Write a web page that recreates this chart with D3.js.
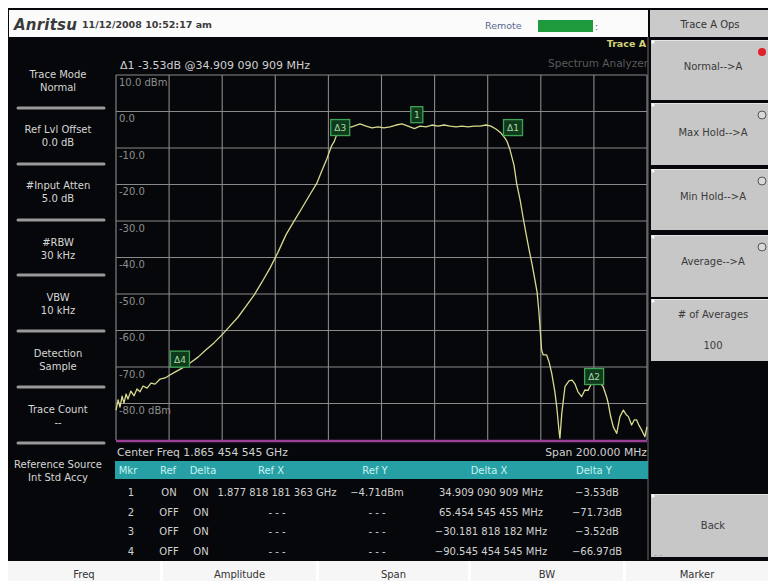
<!DOCTYPE html>
<html><head><meta charset="utf-8">
<script src="https://cdn.jsdelivr.net/npm/d3@7"></script>
<style>
body{margin:0;background:#fff}
svg{display:block}
text{font-family:"DejaVu Sans",sans-serif}
</style></head>
<body><svg id="c" width="768" height="581"></svg>
<script>
// ---------- DATA ----------
const centerFreqText = "Center Freq 1.865 454 545 GHz";
const spanText = "Span 200.000 MHz";
// trace: frequency offset from center (MHz) and level (dBm)
const traceFreq = [-100,-99.2,-98.5,-97.7,-97.0,-96.2,-95.5,-94.4,-93.2,-92.1,-91.0,-89.8,-88.3,-86.8,-85.3,-83.4,-81.5,-79.7,-77.8,-75.1,-72.1,-69.1,-66.1,-63.1,-60.1,-57.1,-54.0,-51.0,-48.0,-45.0,-42.0,-39.0,-36.0,-33.0,-30.0,-27.0,-24.4,-22.5,-20.6,-18.8,-17.8,-16.9,-15.5,-12.6,-10.4,-8.1,-5.8,-3.6,-1.3,0.9,3.2,5.5,7.7,10.0,12.4,14.5,16.8,19.0,21.3,23.6,25.8,28.1,30.3,32.6,34.8,37.1,39.4,41.2,43.1,45.0,46.5,47.3,48.4,49.9,50.9,52.2,53.3,54.4,55.6,56.7,57.8,58.6,59.3,59.7,60.3,60.9,62.2,63.1,64.1,65.3,66.0,66.9,67.2,67.9,69.1,70.6,71.8,72.9,74.0,75.4,76.6,77.8,79.2,80.5,81.7,82.7,83.5,84.9,85.4,86.3,87.3,88.6,89.8,91.1,92.1,93.0,94.2,95.2,96.1,97.0,98.0,99.2,100];
const traceLevel = [-81.8,-79.0,-81.0,-78.0,-79.9,-77.4,-78.8,-76.6,-77.9,-76.0,-76.8,-75.2,-75.8,-74.4,-74.7,-73.3,-73.0,-72.2,-71.4,-70.3,-68.9,-67.3,-65.3,-63.4,-61.2,-58.8,-56.3,-53.3,-50.3,-46.7,-42.9,-38.6,-33.8,-30.1,-26.5,-22.8,-19.7,-16.3,-13.0,-9.4,-8.2,-6.4,-5.3,-4.5,-4.0,-3.4,-4.0,-4.5,-4.2,-4.5,-4.2,-3.7,-3.4,-4.0,-4.7,-4.0,-4.2,-3.7,-4.0,-3.7,-4.0,-4.2,-4.0,-4.2,-4.0,-4.0,-3.7,-4.0,-4.8,-5.9,-7.3,-8.2,-10.5,-14.7,-19.7,-24.2,-28.9,-33.3,-37.9,-41.8,-46.2,-49.5,-55.0,-59.0,-65.3,-66.7,-66.7,-68.6,-71.7,-76.8,-80.9,-87.8,-89.5,-82.7,-75.4,-73.8,-73.6,-74.7,-76.8,-78.1,-76.3,-76.4,-74.4,-73.8,-73.6,-74.7,-75.4,-78.5,-80.0,-83.5,-86.4,-88.2,-83.6,-81.8,-83.0,-83.6,-85.9,-84.5,-84.5,-86.0,-87.3,-89.1,-86.4];
const yTickValues = [10,0,-10,-20,-30,-40,-50,-60,-70,-80];
const yTickLabels = ["10.0 dBm","0.0","-10.0","-20.0","-30.0","-40.0","-50.0","-60.0","-70.0","-80.0 dBm"];
const markerNames = ["1","Δ1","Δ2","Δ3","Δ4"];
const markerFreq = [12.364,47.273,77.818,-17.818,-78.182];
const markerLevel = [-4.71,-8.24,-76.44,-8.23,-71.68];
const markerReadout = "Δ1  -3.53dB @34.909 090 909 MHz";
const tableHeaders = ["Mkr","Ref","Delta","Ref X","Ref Y","Delta X","Delta Y"];
const tableMkr = ["1","2","3","4"];
const tableRef = ["ON","OFF","OFF","OFF"];
const tableDelta = ["ON","ON","ON","ON"];
const tableRefX = ["1.877 818 181 363 GHz","- - -","- - -","- - -"];
const tableRefY = ["−4.71dBm","- - -","- - -","- - -"];
const tableDeltaX = ["34.909 090 909 MHz","65.454 545 455 MHz","−30.181 818 182 MHz","−90.545 454 545 MHz"];
const tableDeltaY = ["−3.53dB","−71.73dB","−3.52dB","−66.97dB"];
const leftTitles = ["Trace Mode","Ref Lvl Offset","#Input Atten","#RBW","VBW","Detection","Trace Count","Reference Source"];
const leftValues = ["Normal","0.0 dB","5.0 dB","30 kHz","10 kHz","Sample","--","Int Std Accy"];
const softkeys = ["Normal-->A","Max Hold-->A","Min Hold-->A","Average-->A"];
const bottomKeys = ["Freq","Amplitude","Span","BW","Marker"];

// ---------- LAYOUT ----------
const svg = d3.select("#c");
const G = {l:116, r:647, t:75, b:440};
const x = d3.scaleLinear().domain([-100,100]).range([G.l,G.r]);
const y = d3.scaleLinear().domain([-90,10]).range([G.b,G.t]);

svg.append("rect").attr("width",768).attr("height",581).attr("fill","#fff");
svg.append("rect").attr("x",8).attr("y",8).attr("width",760).attr("height",553).attr("fill","#06070a");

// top bar
svg.append("rect").attr("x",9).attr("y",10).attr("width",639).attr("height",27).attr("fill","#fbfbfb");
svg.append("text").attr("x",14).attr("y",30).attr("font-size",15).attr("font-weight",900)
  .attr("font-style","italic").attr("fill","#3a3a3a").attr("letter-spacing",0.2).text("Anritsu");
svg.append("text").attr("x",82).attr("y",28).attr("font-size",9.5).attr("font-weight","bold")
  .attr("fill","#3a3a3a").text("11/12/2008 10:52:17 am");
svg.append("text").attr("x",485).attr("y",29).attr("font-size",9.5).attr("fill","#5a6890").text("Remote");
svg.append("rect").attr("x",538).attr("y",20).attr("width",55).attr("height",12).attr("fill","#1f9a3c");
svg.append("text").attr("x",595).attr("y",30).attr("font-size",9).attr("fill","#555").text(":");

// right panel header
svg.append("rect").attr("x",650).attr("y",10).attr("width",118).attr("height",27).attr("fill","#cacaca");
svg.append("text").attr("x",710).attr("y",28).attr("text-anchor","middle").attr("font-size",10)
  .attr("fill","#333").text("Trace A Ops");

// right softkeys
const keyBoxes = [[40,100],[103,165],[169,230],[235,297],[299,361],[494,557]];
const keyTextY = [70,136,200,265];
keyBoxes.forEach((k,i)=>{
  svg.append("rect").attr("x",651).attr("y",k[0]).attr("width",117).attr("height",k[1]-k[0]).attr("fill","#c7c7c7");
  svg.append("line").attr("x1",651).attr("x2",768).attr("y1",k[0]+0.5).attr("y2",k[0]+0.5).attr("stroke","#e4e4e4");
  svg.append("circle").attr("cx",653).attr("cy",k[0]+2).attr("r",1.5).attr("fill","#fff");
});
softkeys.forEach((s,i)=>{
  const k = keyBoxes[i];
  svg.append("text").attr("x",713).attr("y",keyTextY[i]).attr("text-anchor","middle")
    .attr("font-size",10).attr("fill","#3a3a3a").text(s);
  svg.append("circle").attr("cx",762).attr("cy",k[0]+12).attr("r",4)
    .attr("fill", i===0 ? "#e0202a" : "#d8d8d8").attr("stroke", i===0 ? "none" : "#555").attr("stroke-width",1);
});
svg.append("text").attr("x",713).attr("y",318).attr("text-anchor","middle").attr("font-size",10).attr("fill","#3a3a3a").text("# of Averages");
svg.append("text").attr("x",713).attr("y",349).attr("text-anchor","middle").attr("font-size",10).attr("fill","#3a3a3a").text("100");
svg.append("text").attr("x",713).attr("y",529).attr("text-anchor","middle").attr("font-size",10).attr("fill","#3a3a3a").text("Back");
svg.append("text").attr("x",654).attr("y",558).attr("font-size",8).attr("fill","#999").text("- -");

// divider between chart and right panel
svg.append("line").attr("x1",648).attr("x2",648).attr("y1",37).attr("y2",560).attr("stroke","#6a6a6a").attr("stroke-width",1);

// bottom keys
const bottomX = [[8,160],[163,316],[319,468],[471,623],[626,768]];
bottomX.forEach((b,i)=>{
  svg.append("rect").attr("x",b[0]).attr("y",561).attr("width",b[1]-b[0]).attr("height",20).attr("fill","#f6f6f6");
  svg.append("text").attr("x",(b[0]+b[1])/2).attr("y",578).attr("text-anchor","middle")
    .attr("font-size",10).attr("fill","#333").text(bottomKeys[i]);
});

// left panel
const sepY = [108,164,220,275,331,387,443];
sepY.forEach(s=>{
  svg.append("line").attr("x1",18).attr("x2",104).attr("y1",s).attr("y2",s)
    .attr("stroke","#9a9a9a").attr("stroke-width",3).attr("stroke-linecap","round");
});
const titleY = [78,133,189,246,301,357,413,468];
leftTitles.forEach((t,i)=>{
  svg.append("text").attr("x",58).attr("y",titleY[i]).attr("text-anchor","middle")
    .attr("font-size",10).attr("fill","#d6d6d6").text(t);
  svg.append("text").attr("x",58).attr("y",titleY[i]+13).attr("text-anchor","middle")
    .attr("font-size",10).attr("fill","#d6d6d6").text(leftValues[i]);
});

// chart titles
svg.append("text").attr("x",646).attr("y",47).attr("text-anchor","end").attr("font-size",9.5)
  .attr("font-weight","bold").attr("fill","#d4d47a").text("Trace A");
svg.append("text").attr("x",648).attr("y",67).attr("text-anchor","end").attr("font-size",10.5)
  .attr("fill","#5a5a5a").text("Spectrum Analyzer");
svg.append("text").attr("x",120).attr("y",69).attr("font-size",11).attr("fill","#cfcfcf").text(markerReadout);

// grid
const xTicks = d3.range(-100,101,20);
const yTicks = d3.range(-90,11,10);
const grid = svg.append("g");
grid.selectAll("line.v").data(xTicks).join("line")
  .attr("x1",d=>x(d)).attr("x2",d=>x(d)).attr("y1",G.t).attr("y2",G.b)
  .attr("stroke","#8a8a8a").attr("stroke-width",1.1);
grid.selectAll("line.h").data(yTicks.filter(d=>d>-90)).join("line")
  .attr("x1",G.l).attr("x2",G.r).attr("y1",d=>y(d)).attr("y2",d=>y(d))
  .attr("stroke","#8a8a8a").attr("stroke-width",1.1);
svg.append("line").attr("x1",G.l).attr("x2",G.r).attr("y1",G.b+1).attr("y2",G.b+1)
  .attr("stroke","#9b3f96").attr("stroke-width",2.5);
svg.selectAll("text.yl").data(yTickValues).join("text")
  .attr("x",119).attr("y",d=>y(d)+10.5).attr("font-size",10).attr("fill","#8e8e8e")
  .text((d,i)=>yTickLabels[i]);

// trace
const pts = traceFreq.map((f,i)=>[f,traceLevel[i]]);
svg.append("path").datum(pts)
  .attr("d", d3.line().x(d=>x(d[0])).y(d=>y(d[1])))
  .attr("fill","none").attr("stroke","#d9da8e").attr("stroke-width",1.3).attr("stroke-linejoin","round");

// markers
markerNames.forEach((m,i)=>{
  const px = x(markerFreq[i]), py = y(markerLevel[i]);
  const w = m.length>1 ? 19 : 12, h = 16;
  const g = svg.append("g");
  g.append("rect").attr("x",px-3.5).attr("y",py-6-h).attr("width",w).attr("height",h)
    .attr("fill","#103a1c").attr("stroke","#3fa355").attr("stroke-width",1.3);
  g.append("text").attr("x",px-3.5+w/2).attr("y",py-6-h/2+3.5).attr("text-anchor","middle")
    .attr("font-size",9).attr("fill","#a7d9a7").text(m);
});

// center / span
svg.append("text").attr("x",117).attr("y",456).attr("font-size",10.8).attr("fill","#d0d0d0").text(centerFreqText);
svg.append("text").attr("x",647).attr("y",456).attr("text-anchor","end").attr("font-size",10.8).attr("fill","#d0d0d0").text(spanText);

// table
svg.append("rect").attr("x",115).attr("y",461).attr("width",533).attr("height",18).attr("fill","#26a0a4");
const headX = [128,168,203,271,375,489,594];
tableHeaders.forEach((h,i)=>{
  svg.append("text").attr("x",headX[i]).attr("y",474).attr("text-anchor","middle")
    .attr("font-size",10).attr("fill","#c8f2f2").text(h);
});
const rowY = [496,516,535,555];
const cols = [[tableMkr,131],[tableRef,169],[tableDelta,201],[tableRefX,277],[tableRefY,377],[tableDeltaX,491],[tableDeltaY,597]];
cols.forEach(c=>{
  c[0].forEach((v,r)=>{
    svg.append("text").attr("x",c[1]).attr("y",rowY[r]).attr("text-anchor","middle")
      .attr("font-size",10).attr("fill","#d2d2d2").text(v);
  });
});
</script></body></html>
